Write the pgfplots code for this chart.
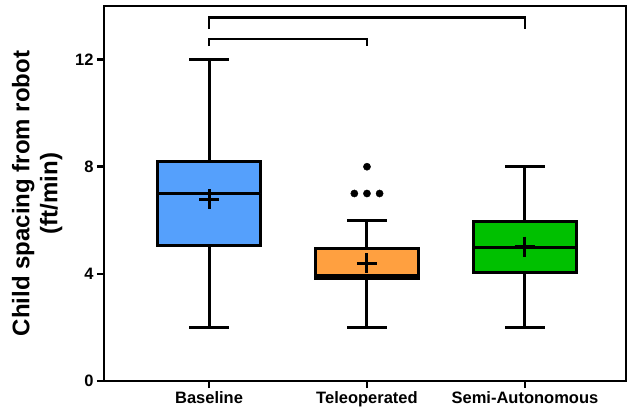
\documentclass[border=0pt]{standalone}
\usepackage{fontspec}
\setmainfont{Liberation Sans}
\usepackage{pgfplots}
\pgfplotsset{compat=1.18}
\usepgfplotslibrary{statistics}
\definecolor{cblue}{RGB}{85,160,252}
\definecolor{corange}{RGB}{255,160,64}
\definecolor{cgreen}{RGB}{0,192,0}
\begin{document}
\begin{tikzpicture}
\begin{axis}[
  scale only axis, width=522pt, height=375pt,
  xmin=0.335, xmax=3.64, ymin=0, ymax=14,
  axis line style={line width=2.6pt},
  every tick/.style={line width=2.6pt, black},
  major tick length=7pt,
  tick align=outside, tick pos=left,
  xtick={1,2,3}, xticklabels={Baseline,Teleoperated,Semi-Autonomous},
  ytick={0,4,8,12},
  ticklabel style={font=\fontsize{16.5}{19}\selectfont\bfseries},
  /pgf/number format/assume math mode=true,
  ylabel={Child spacing from robot\\(ft/min)},
  ylabel style={align=center, font=\fontsize{24}{28}\selectfont\bfseries},
  ylabel shift=6pt,
  boxplot/draw direction=y,
  boxplot/box extend=0.65,
  boxplot/whisker extend=0.25,
  boxplot/every box/.style={line width=3pt},
  boxplot/every whisker/.style={line width=3pt},
  boxplot/every median/.style={line width=3pt},
  clip=false,
]
\addplot[draw=black, line width=3pt, fill=cblue, boxplot prepared={draw position=1, lower whisker=2, lower quartile=5.07, median=7.0, upper quartile=8.2, upper whisker=12}] coordinates {};
\addplot[draw=black, line width=3pt, fill=corange, boxplot prepared={draw position=2, lower whisker=2, lower quartile=3.82, median=3.95, upper quartile=4.95, upper whisker=6}] coordinates {};
\addplot[draw=black, line width=3pt, fill=cgreen, boxplot prepared={draw position=3, lower whisker=2, lower quartile=4.05, median=5.0, upper quartile=5.97, upper whisker=8}] coordinates {};
% outliers
\addplot[only marks, mark=*, mark size=3.6pt, black] coordinates {(1.92,7) (2,7) (2.08,7) (2,8)};
% means
\addplot[only marks, mark=+, mark size=10pt, black, mark options={line width=3pt}] coordinates {(1,6.79) (2,4.4) (3,5.02)};
% brackets
\addplot[line width=2.6pt, black] coordinates {(1,13.14) (1,13.56) (3,13.56) (3,13.14)};
\addplot[line width=2.6pt, black] coordinates {(1,12.5) (1,12.77) (2,12.77) (2,12.5)};
\end{axis}
\pgfresetboundingbox
\useasboundingbox (current axis.south west) ++(-104pt,-33pt) rectangle ++(639pt,414pt);
\end{tikzpicture}
\end{document}
